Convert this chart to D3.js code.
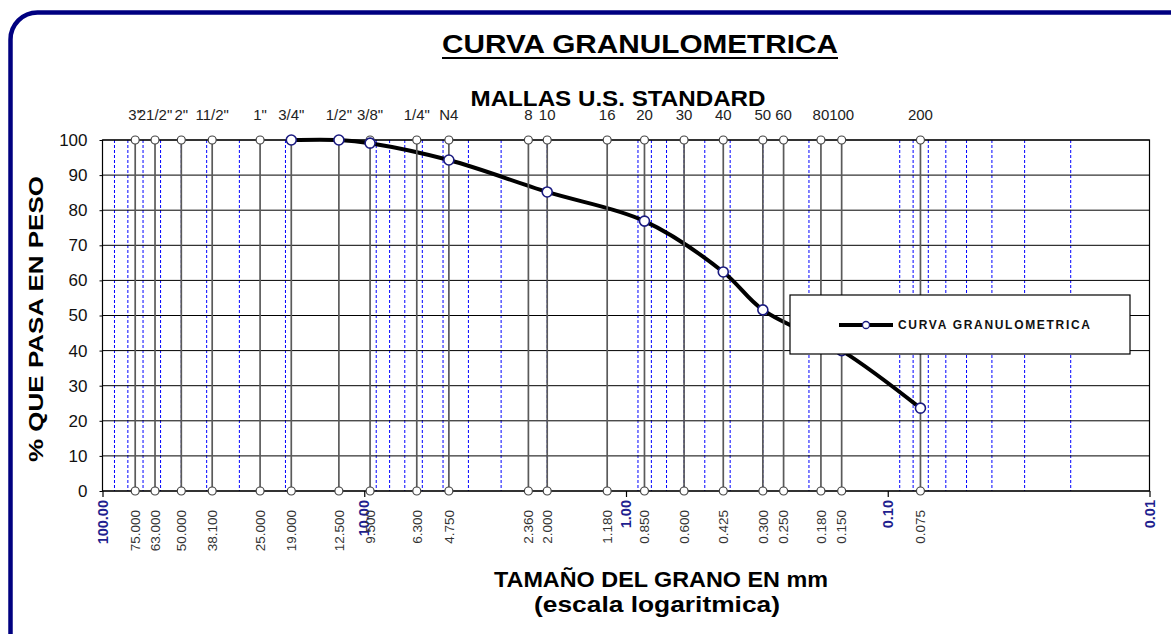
<!DOCTYPE html>
<html>
<head>
<meta charset="utf-8">
<script src="https://cdn.jsdelivr.net/npm/d3@7"></script>
<style>
  html, body { margin: 0; padding: 0; background: #fff; }
  svg { display: block; font-family: "Liberation Sans", Arial, sans-serif; }
</style>
</head>
<body>
<svg id="chart" width="1171" height="634"></svg>
<script>
// ─── Data ───
const sieveNames = ['3"', '21/2"', '2"', '11/2"', '1"', '3/4"', '1/2"', '3/8"', '1/4"', "N4",
  "8", "10", "16", "20", "30", "40", "50", "60", "80", "100", "200"];
const sieveSizes = [75, 63, 50, 38.1, 25, 19, 12.5, 9.5, 6.3, 4.75,
  2.36, 2.0, 1.18, 0.85, 0.6, 0.425, 0.3, 0.25, 0.18, 0.15, 0.075];
const sieveLabels = ["75.000", "63.000", "50.000", "38.100", "25.000", "19.000", "12.500", "9.500", "6.300", "4.750",
  "2.360", "2.000", "1.180", "0.850", "0.600", "0.425", "0.300", "0.250", "0.180", "0.150", "0.075"];

const curveSizes = [19, 12.5, 9.5, 4.75, 2.0, 0.85, 0.425, 0.3, 0.15, 0.075];
const curvePass = [100, 100, 99.1, 94.3, 85.2, 76.9, 62.4, 51.6, 40, 23.6];

const decades = [100, 10, 1, 0.1, 0.01];
const yTicks = [0, 10, 20, 30, 40, 50, 60, 70, 80, 90, 100];

// ─── Layout ───
const LEFT = 102.5, RIGHT = 1149.5, TOP = 140, BOTTOM = 491;
const NAVY = "#000080";
const DECADE_BLUE = "#1f1f8f";

const svg = d3.select("#chart");

const x = d3.scaleLog().domain([100, 0.01]).range([LEFT, RIGHT]);
const y = d3.scaleLinear().domain([0, 100]).range([BOTTOM, TOP]);

// outer rounded frame
svg.append("rect")
  .attr("x", 10.5).attr("y", 12.5)
  .attr("width", 1300).attr("height", 700)
  .attr("rx", 27)
  .attr("fill", "none")
  .attr("stroke", NAVY)
  .attr("stroke-width", 4.5);

// ─── Titles ───
svg.append("text")
  .attr("x", 640).attr("y", 53)
  .attr("text-anchor", "middle")
  .attr("font-size", 25).attr("font-weight", 700)
  .attr("textLength", 396).attr("lengthAdjust", "spacingAndGlyphs")
  .text("CURVA GRANULOMETRICA");
svg.append("line")
  .attr("x1", 442).attr("x2", 838)
  .attr("y1", 58).attr("y2", 58)
  .attr("stroke", "#000").attr("stroke-width", 2.2);

svg.append("text")
  .attr("x", 618).attr("y", 106)
  .attr("text-anchor", "middle")
  .attr("font-size", 22).attr("font-weight", 700)
  .attr("textLength", 295).attr("lengthAdjust", "spacingAndGlyphs")
  .text("MALLAS U.S. STANDARD");

// ─── Grid ───
// blue dashed minor lines (2..9 in every decade)
const minor = x.ticks().filter((v) => !decades.some((d) => Math.abs(v - d) < 1e-9));
svg.append("g")
  .selectAll("line")
  .data(minor)
  .join("line")
  .attr("x1", (d) => x(d)).attr("x2", (d) => x(d))
  .attr("y1", TOP).attr("y2", BOTTOM)
  .attr("stroke", "#0000ff")
  .attr("stroke-width", 1)
  .attr("stroke-dasharray", "3,2");

// horizontal lines
svg.append("g")
  .selectAll("line")
  .data(yTicks)
  .join("line")
  .attr("x1", LEFT).attr("x2", RIGHT)
  .attr("y1", (d) => y(d)).attr("y2", (d) => y(d))
  .attr("stroke", "#000")
  .attr("stroke-width", 1);

// y axis labels
const yAxis = svg.append("g")
  .attr("transform", `translate(${LEFT},0)`)
  .call(d3.axisLeft(y).tickValues(yTicks).tickSize(3).tickPadding(12));
yAxis.select(".domain").remove();
yAxis.selectAll("text").attr("font-size", 17).attr("font-family", null).attr("fill", "#111");
yAxis.selectAll("line").attr("stroke", "#000");

// plot border
svg.append("rect")
  .attr("x", LEFT).attr("y", TOP)
  .attr("width", RIGHT - LEFT).attr("height", BOTTOM - TOP)
  .attr("fill", "none").attr("stroke", "#000").attr("stroke-width", 1.2);

// decade ticks + labels
const xAxis = svg.append("g")
  .attr("transform", `translate(0,${BOTTOM})`)
  .call(d3.axisBottom(x).tickValues(decades).tickSize(6).tickFormat(""));
xAxis.select(".domain").remove();
xAxis.selectAll("line").attr("stroke", "#000").attr("stroke-width", 1.2);

svg.append("g")
  .selectAll("text")
  .data(decades)
  .join("text")
  .attr("transform", (d) => `translate(${x(d)},500) rotate(-90)`)
  .attr("text-anchor", "end")
  .attr("dy", "0.35em")
  .attr("font-size", 14.5).attr("font-weight", 700)
  .attr("fill", DECADE_BLUE)
  .text((d) => d3.format(".2f")(d));

// ─── Sieves ───
const sieves = sieveSizes.map((s, i) => ({ size: s, name: sieveNames[i], label: sieveLabels[i] }));

const sieveG = svg.append("g");
sieveG.selectAll("line")
  .data(sieves)
  .join("line")
  .attr("x1", (d) => x(d.size)).attr("x2", (d) => x(d.size))
  .attr("y1", TOP).attr("y2", BOTTOM)
  .attr("stroke", "#5a5a5a")
  .attr("stroke-width", 1.7);

svg.append("g")
  .selectAll("text")
  .data(sieves)
  .join("text")
  .attr("x", (d) => x(d.size))
  .attr("y", 120)
  .attr("text-anchor", "middle")
  .attr("font-size", 15)
  .attr("fill", "#222")
  .text((d) => d.name);

svg.append("g")
  .selectAll("text")
  .data(sieves)
  .join("text")
  .attr("transform", (d) => `translate(${x(d.size)},510) rotate(-90)`)
  .attr("text-anchor", "end")
  .attr("dy", "0.35em")
  .attr("font-size", 13.5)
  .attr("fill", "#333")
  .text((d) => d.label);

// ─── Curve ───
const pts = curveSizes.map((s, i) => ({ size: s, pass: curvePass[i] }));
const line = d3.line()
  .x((d) => x(d.size))
  .y((d) => y(d.pass))
  .curve(d3.curveCatmullRom.alpha(0.5));

svg.append("path")
  .datum(pts)
  .attr("d", line)
  .attr("fill", "none")
  .attr("stroke", "#000")
  .attr("stroke-width", 4)
  .attr("stroke-linejoin", "round");

// sieve circles at top and bottom
[TOP, BOTTOM].forEach((yy) => {
  sieveG.selectAll(null)
    .data(sieves)
    .join("circle")
    .attr("cx", (d) => x(d.size))
    .attr("cy", yy)
    .attr("r", 4)
    .attr("fill", "#fff")
    .attr("stroke", "#444")
    .attr("stroke-width", 1.2);
});
sieveG.raise();

svg.append("g")
  .selectAll("circle")
  .data(pts)
  .join("circle")
  .attr("cx", (d) => x(d.size))
  .attr("cy", (d) => y(d.pass))
  .attr("r", 5)
  .attr("fill", "#fff")
  .attr("stroke", "#1a1a80")
  .attr("stroke-width", 1.6);

// ─── Legend ───
const leg = svg.append("g").attr("transform", "translate(790,295)");
leg.append("rect")
  .attr("width", 340).attr("height", 59)
  .attr("fill", "#fff").attr("stroke", "#000").attr("stroke-width", 1.2);
leg.append("line")
  .attr("x1", 49).attr("x2", 103)
  .attr("y1", 30).attr("y2", 30)
  .attr("stroke", "#000").attr("stroke-width", 4);
leg.append("circle")
  .attr("cx", 76).attr("cy", 30).attr("r", 3.5)
  .attr("fill", "#fff").attr("stroke", "#1a1a80").attr("stroke-width", 1.3);
leg.append("text")
  .attr("x", 108).attr("y", 34)
  .attr("font-size", 12).attr("font-weight", 700)
  .attr("fill", "#111")
  .attr("textLength", 192).attr("lengthAdjust", "spacing")
  .text("CURVA GRANULOMETRICA");

// ─── Axis titles ───
svg.append("text")
  .attr("x", 661).attr("y", 587)
  .attr("text-anchor", "middle")
  .attr("font-size", 22).attr("font-weight", 700)
  .attr("textLength", 334).attr("lengthAdjust", "spacingAndGlyphs")
  .text("TAMAÑO DEL GRANO EN mm");
svg.append("text")
  .attr("x", 657).attr("y", 612)
  .attr("text-anchor", "middle")
  .attr("font-size", 22).attr("font-weight", 700)
  .attr("textLength", 246).attr("lengthAdjust", "spacingAndGlyphs")
  .text("(escala logaritmica)");

svg.append("text")
  .attr("transform", "translate(43,319) rotate(-90)")
  .attr("text-anchor", "middle")
  .attr("font-size", 21).attr("font-weight", 700)
  .attr("textLength", 286).attr("lengthAdjust", "spacingAndGlyphs")
  .text("% QUE PASA EN PESO");
</script>
</body>
</html>
